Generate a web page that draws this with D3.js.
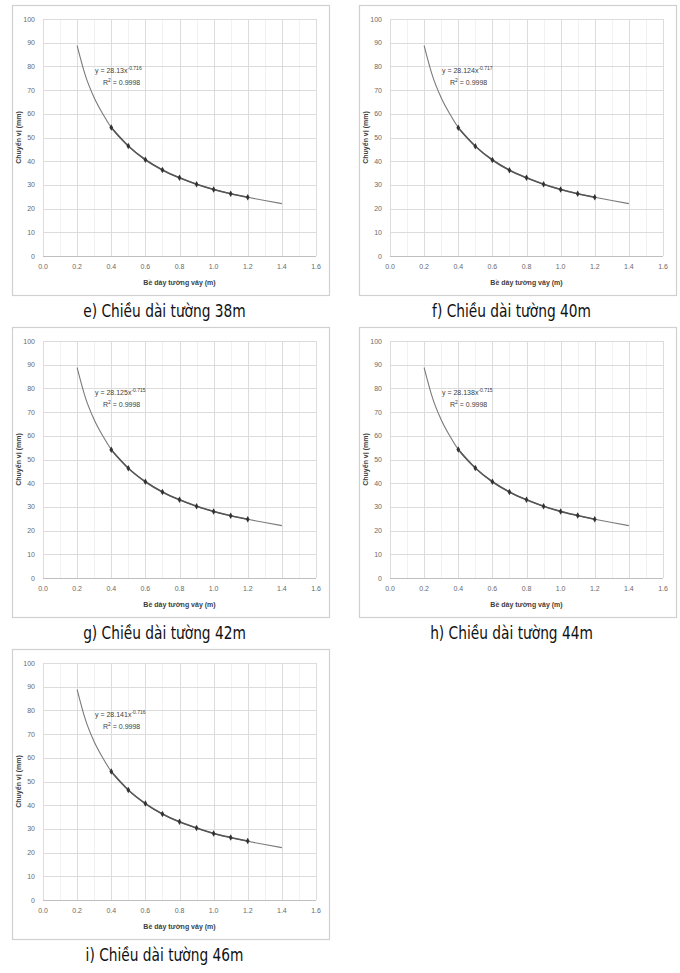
<!DOCTYPE html>
<html>
<head>
<meta charset="utf-8">
<script src="https://cdn.jsdelivr.net/npm/d3@7"></script>
<style>
	body { margin: 0; background: #fff; }
	svg { display: block; }
</style>
</head>
<body>
<svg id="chart" width="680" height="973"></svg>
<script>
// Data points (wall thickness vs displacement)
var thickness = [0.4, 0.5, 0.6, 0.7, 0.8, 0.9, 1.0, 1.1, 1.2];
var disp38 = [54.2, 46.4, 40.6, 36.3, 33.0, 30.3, 28.1, 26.3, 24.8];
var disp40 = [54.1, 46.3, 40.5, 36.2, 33.0, 30.3, 28.1, 26.3, 24.8];
var disp42 = [54.1, 46.3, 40.6, 36.3, 33.0, 30.3, 28.1, 26.3, 24.8];
var disp44 = [54.2, 46.4, 40.6, 36.3, 33.0, 30.3, 28.1, 26.4, 24.8];
var disp46 = [54.2, 46.4, 40.7, 36.3, 33.0, 30.4, 28.1, 26.4, 24.9];

// Trendline (0.2 .. 1.4)
var trendX = [0.2, 0.25, 0.3, 0.35, 0.4, 0.5, 0.6, 0.7, 0.8, 0.9, 1.0, 1.1, 1.2, 1.3, 1.4];
var trendY = [88.8, 75.8, 66.8, 60.0, 54.2, 46.4, 40.6, 36.3, 33.0, 30.3, 28.1, 26.3, 24.8, 23.4, 22.1];

var captions = ["e) Chiều dài tường 38m", "f) Chiều dài tường 40m", "g) Chiều dài tường 42m",
	"h) Chiều dài tường 44m", "i) Chiều dài tường 46m"];
var eqCoef = ["28.13", "28.124", "28.125", "28.138", "28.141"];
var eqExp = ["-0.716", "-0.717", "-0.715", "-0.715", "-0.716"];
var eqR2 = ["0.9998", "0.9998", "0.9998", "0.9998", "0.9998"];
var series = [disp38, disp40, disp42, disp44, disp46];

var xTicks = [0.0, 0.2, 0.4, 0.6, 0.8, 1.0, 1.2, 1.4, 1.6];
var yTicks = [0, 10, 20, 30, 40, 50, 60, 70, 80, 90, 100];

var xTitle = "Bề dày tường vây (m)";
var yTitle = "Chuyển vị (mm)";

var boxLeft = [12, 359];
var boxTop = [5, 327, 649];
var boxW = 317, boxH = 290;

var svg = d3.select("#chart");

var drawPanel = function(i){
	var bx = boxLeft[i % 2];
	var by = boxTop[Math.floor(i / 2)];
	var g = svg.append("g").attr("transform", "translate(" + bx + "," + by + ")");

	var x_scale = d3.scaleLinear().domain([0, 1.6]).range([31, 304]);
	var y_scale = d3.scaleLinear().domain([0, 100]).range([251, 14]);

	// chart area border
	g.append("rect")
		.attr("x", 0.5).attr("y", 0.5)
		.attr("width", boxW).attr("height", boxH)
		.attr("fill", "white")
		.attr("stroke", "#d0d0d0")
		.attr("stroke-width", 1.2);

	// minor vertical grid
	g.append("g").selectAll("line")
		.data(d3.range(1, 16, 2).map(function(k){ return k / 10; }))
		.enter().append("line")
			.attr("x1", function(d){ return Math.round(x_scale(d)) + 0.5; })
			.attr("x2", function(d){ return Math.round(x_scale(d)) + 0.5; })
			.attr("y1", y_scale(100)).attr("y2", y_scale(0))
			.attr("stroke", "#f1f1f1");

	// major grid
	g.append("g").selectAll("line")
		.data(xTicks)
		.enter().append("line")
			.attr("x1", function(d){ return Math.round(x_scale(d)) + 0.5; })
			.attr("x2", function(d){ return Math.round(x_scale(d)) + 0.5; })
			.attr("y1", y_scale(100)).attr("y2", y_scale(0))
			.attr("stroke", "#dcdcdc");
	g.append("g").selectAll("line")
		.data(yTicks)
		.enter().append("line")
			.attr("x1", x_scale(0)).attr("x2", x_scale(1.6))
			.attr("y1", function(d){ return Math.round(y_scale(d)) + 0.5; })
			.attr("y2", function(d){ return Math.round(y_scale(d)) + 0.5; })
			.attr("stroke", function(d){ return d === 0 ? "#bfbfbf" : "#dcdcdc"; });

	// tick labels
	g.append("g").selectAll("text")
		.data(yTicks)
		.enter().append("text")
			.attr("x", x_scale(0) - 8)
			.attr("y", function(d){ return y_scale(d) + 2.5; })
			.attr("text-anchor", "end")
			.attr("font-family", "Liberation Sans, Arial, sans-serif")
			.attr("font-size", 7)
			.attr("fill", "#6a6a6a")
			.text(function(d){ return d; });
	g.append("g").selectAll("text")
		.data(xTicks)
		.enter().append("text")
			.attr("x", function(d){ return x_scale(d); })
			.attr("y", y_scale(0) + 13)
			.attr("text-anchor", "middle")
			.attr("font-family", "Liberation Sans, Arial, sans-serif")
			.attr("font-size", 7)
			.attr("fill", "#6a6a6a")
			.text(function(d){ return d.toFixed(1); });

	// axis titles
	g.append("text")
		.attr("x", (x_scale(0) + x_scale(1.6)) / 2)
		.attr("y", 280)
		.attr("text-anchor", "middle")
		.attr("font-family", "Liberation Sans, Arial, sans-serif")
		.attr("font-size", 7)
		.attr("font-weight", "bold")
		.attr("fill", "#404040")
		.text(xTitle);
	g.append("text")
		.attr("transform", "translate(9," + ((y_scale(0) + y_scale(100)) / 2) + ") rotate(-90)")
		.attr("text-anchor", "middle")
		.attr("font-family", "Liberation Sans, Arial, sans-serif")
		.attr("font-size", 7)
		.attr("font-weight", "bold")
		.attr("fill", "#404040")
		.text(yTitle);

	// trendline
	var trend = trendX.map(function(v, k){ return [v, trendY[k]]; });
	g.append("path")
		.datum(trend)
		.attr("d", d3.line()
			.x(function(d){ return x_scale(d[0]); })
			.y(function(d){ return y_scale(d[1]); })
			.curve(d3.curveMonotoneX))
		.attr("fill", "none")
		.attr("stroke", "#7a7a7a")
		.attr("stroke-width", 1.1);

	// data series
	var pts = thickness.map(function(v, k){ return [v, series[i][k]]; });
	g.append("path")
		.datum(pts)
		.attr("d", d3.line()
			.x(function(d){ return x_scale(d[0]); })
			.y(function(d){ return y_scale(d[1]); })
			.curve(d3.curveMonotoneX))
		.attr("fill", "none")
		.attr("stroke", "#555")
		.attr("stroke-width", 1.6);
	g.append("g").selectAll("path")
		.data(pts)
		.enter().append("path")
			.attr("d", d3.symbol().type(d3.symbolDiamond).size(12))
			.attr("transform", function(d){
				return "translate(" + x_scale(d[0]) + "," + y_scale(d[1]) + ")";
			})
			.attr("fill", "#333");

	// equation
	var eq = g.append("text")
		.attr("x", 83).attr("y", 68)
		.attr("font-family", "Liberation Sans, Arial, sans-serif")
		.attr("font-size", 7)
		.attr("fill", "#404040");
	eq.append("tspan").text("y = " + eqCoef[i] + "x");
	eq.append("tspan").attr("dy", -3).attr("font-size", 5).text(eqExp[i]);
	var r2 = g.append("text")
		.attr("x", 91).attr("y", 80)
		.attr("font-family", "Liberation Sans, Arial, sans-serif")
		.attr("font-size", 7)
		.attr("fill", "#404040");
	r2.append("tspan").text("R");
	r2.append("tspan").attr("dy", -3).attr("font-size", 5).text("2");
	r2.append("tspan").attr("dy", 3).text(" = " + eqR2[i]);

	// caption (condensed look)
	svg.append("text")
		.attr("transform", "translate(" + (bx + boxW / 2 - 6) + "," + (by + 312) + ") scale(0.9,1)")
		.attr("text-anchor", "middle")
		.attr("font-family", "DejaVu Sans Condensed, sans-serif")
		.attr("font-size", 17)
		.attr("fill", "#111")
		.text(captions[i]);
};

for (var i = 0; i < captions.length; i++) { drawPanel(i); }
</script>
</body>
</html>
